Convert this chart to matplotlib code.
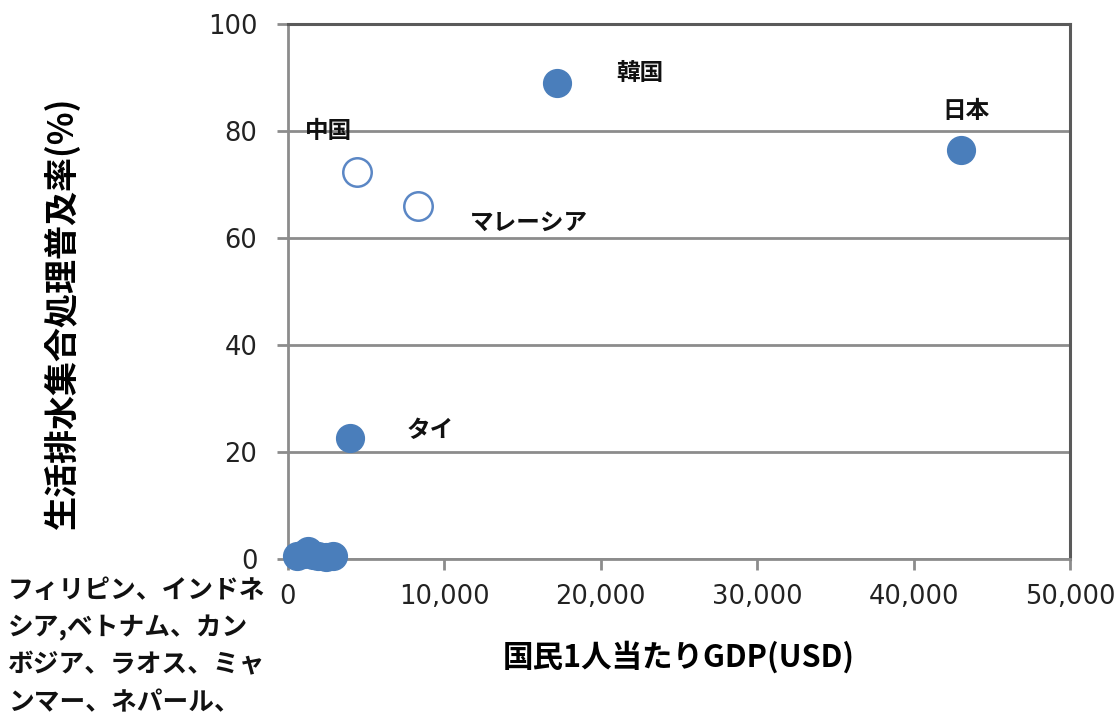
import matplotlib
matplotlib.use("Agg")
import matplotlib.pyplot as plt
from matplotlib.ticker import FuncFormatter

plt.rcParams['font.family'] = ['Noto Sans CJK JP', 'DejaVu Sans']

# Filled markers (labelled countries)
filled_names = ['韓国', '日本', 'タイ']
filled_gdp = [17200, 43000, 3950]
filled_rate = [89.0, 76.4, 22.6]

# Open markers
open_names = ['中国', 'マレーシア']
open_gdp = [4400, 8300]
open_rate = [72.4, 65.9]

# Low income cluster near zero
low_gdp = [600, 1000, 1300, 1600, 1900, 2400, 2900]
low_rate = [0.5, 1.0, 1.5, 0.8, 0.5, 0.3, 0.6]

# label offsets (points) relative to each marker
label_offsets = {'韓国': (60, 7), '日本': (4, 28), 'タイ': (58, 6),
                 '中国': (-20, 29), 'マレーシア': (80, -12)}

note_lines = ['フィリピン、インドネ', 'シア,ベトナム、カン', 'ボジア、ラオス、ミャ', 'ンマー、ネパール、']

blue = '#4A7EBB'
grid_c = '#8C8C8C'
frame_c = '#5A5A5A'

fig = plt.figure(figsize=(11.17, 7.16), dpi=100)
ax = fig.add_axes([0.2578, 0.2193, 0.958 - 0.2578, 0.9665 - 0.2193])

ax.scatter(low_gdp, low_rate, s=400, color=blue, zorder=3, clip_on=False)
ax.scatter(filled_gdp, filled_rate, s=400, color=blue, zorder=3, clip_on=False)
ax.scatter(open_gdp, open_rate, s=420, facecolor='white', edgecolor='#5B87C5',
           linewidth=1.8, zorder=3)

for n, x, y in zip(filled_names + open_names, filled_gdp + open_gdp, filled_rate + open_rate):
    ax.annotate(n, (x, y), xytext=label_offsets[n], textcoords='offset points',
                ha='center', va='center', fontsize=17, fontweight='bold', color='#111111')

ax.set_xlim(0, 50000)
ax.set_ylim(0, 100)
ax.set_xticks(range(0, 50001, 10000))
ax.set_yticks(range(0, 101, 20))
ax.xaxis.set_major_formatter(FuncFormatter(lambda v, p: f'{int(v):,}'))
ax.yaxis.grid(True, color=grid_c, linewidth=2)
ax.set_axisbelow(True)

for side in ['top', 'right']:
    ax.spines[side].set_color(frame_c)
    ax.spines[side].set_linewidth(2.2)
for side in ['left', 'bottom']:
    ax.spines[side].set_color(grid_c)
    ax.spines[side].set_linewidth(2)

ax.tick_params(axis='both', direction='out', length=8, width=2, color=grid_c,
               labelsize=18.5, labelcolor='#222222')
ax.tick_params(axis='y', pad=14)
ax.tick_params(axis='x', pad=10)
for t in ax.get_xticklabels() + ax.get_yticklabels():
    t.set_fontfamily('DejaVu Sans')

ax.set_xlabel('国民1人当たりGDP(USD)', fontsize=22, fontweight='bold', labelpad=22)
ax.set_ylabel('生活排水集合処理普及率(%)', fontsize=24.5, fontweight='bold')
ax.yaxis.set_label_coords(-0.289, 0.46)
ax.yaxis.label.set_va('center')

for i, line in enumerate(note_lines):
    fig.text(8 / 1117, 1 - (590 + i * 37.5) / 716, line, ha='left', va='center',
             fontsize=18.5, fontweight='bold', color='#111111')

fig.savefig('out.png', dpi=100)
